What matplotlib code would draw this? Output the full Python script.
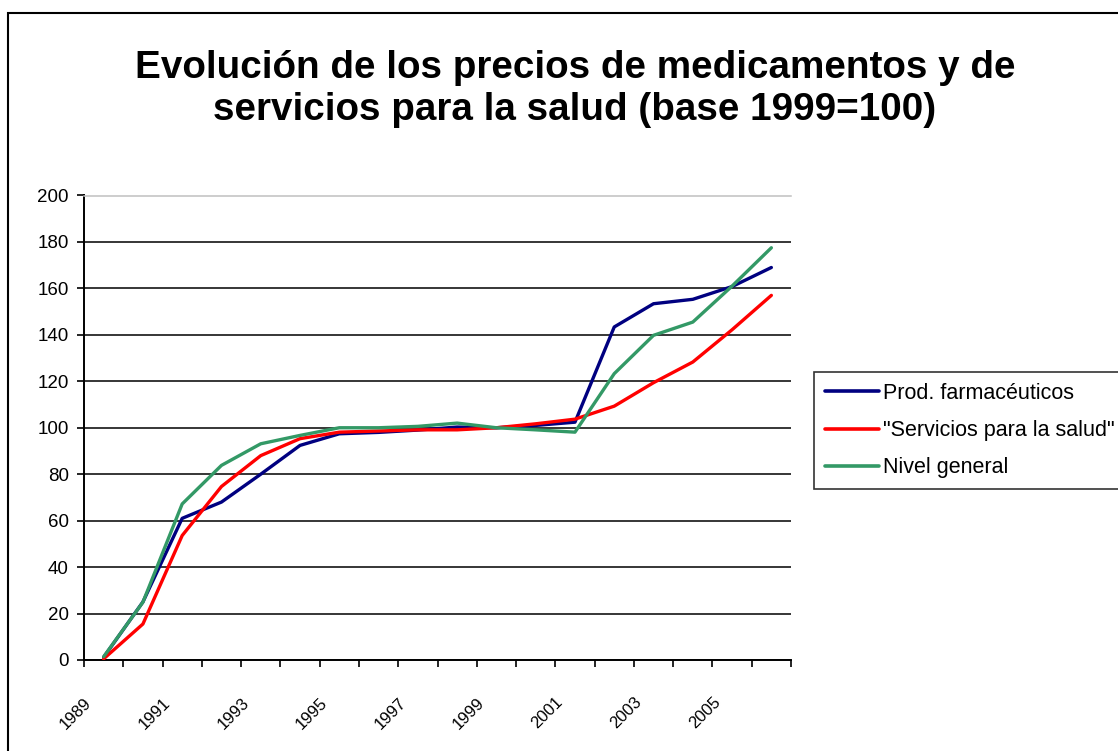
import matplotlib
matplotlib.use("Agg")
import matplotlib.pyplot as plt
import matplotlib.patches as mpatches
from matplotlib.transforms import ScaledTranslation
import numpy as np

plt.rcParams['font.family'] = ['Liberation Sans', 'DejaVu Sans']

years = ["1989", "1990", "1991", "1992", "1993", "1994", "1995", "1996", "1997",
         "1998", "1999", "2000", "2001", "2002", "2003", "2004", "2005", "2006"]
prod_farm = [1.2, 25.0, 61.0, 68.0, 80.0, 92.4, 97.4, 98.0, 99.0,
             100.3, 100.0, 101.0, 102.4, 143.4, 153.4, 155.3, 160.8, 169.0]
serv_salud = [0.5, 15.5, 53.6, 74.7, 88.0, 95.3, 98.1, 98.6, 99.1,
              99.1, 100.0, 101.7, 103.7, 109.3, 119.4, 128.3, 142.2, 157.0]
nivel_gral = [1.4, 24.9, 67.2, 83.8, 93.1, 96.7, 100.0, 100.0, 100.6,
              102.0, 100.0, 99.1, 98.1, 123.3, 139.8, 145.5, 161.0, 177.5]
series_names = ["Prod. farmacéuticos", "\"Servicios para la salud\"", "Nivel general"]
series_colors = ["#000080", "#FF0000", "#339966"]
y_ticks = [0, 20, 40, 60, 80, 100, 120, 140, 160, 180, 200]
title = "Evolución de los precios de medicamentos y de\nservicios para la salud (base 1999=100)"

W, H = 1118, 751
fig = plt.figure(figsize=(W / 100, H / 100), dpi=100)
fig.patch.set_facecolor("white")

# chart-area border (right and bottom edges fall outside the image)
fig.patches.append(mpatches.Rectangle((8 / W, -0.2), 1.5, (H - 13) / H + 0.2,
                                      transform=fig.transFigure, fill=False,
                                      edgecolor="black", linewidth=1.5))

ax = fig.add_axes([84 / W, 1 - 660 / H, (791 - 84) / W, (660 - 195.5) / H])
x = np.arange(len(years))
for vals, name, col in zip([prod_farm, serv_salud, nivel_gral], series_names, series_colors):
    ax.plot(x, vals, color=col, linewidth=2.4, label=name,
            solid_joinstyle="round", solid_capstyle="round", zorder=3)

ax.set_xlim(-0.5, len(years) - 0.5)
ax.set_ylim(0, 200)
ax.set_yticks(y_ticks)
ax.set_yticklabels([str(v) for v in y_ticks], fontsize=13.5)
ax.yaxis.grid(True, color="black", linewidth=1.1)
ax.set_axisbelow(True)
gl = ax.get_ygridlines()
gl[-1].set_color("#C0C0C0")

bounds = np.arange(len(years) + 1) - 0.5
labels = [years[k] if (k % 2 == 0 and k < len(years)) else "" for k in range(len(bounds))]
ax.set_xticks(bounds)
ax.set_xticklabels(labels, fontsize=12, rotation=45, ha="right", va="top",
                   rotation_mode="anchor")
off = ScaledTranslation(-0.15, 0, fig.dpi_scale_trans)
for lab in ax.get_xticklabels():
    lab.set_transform(lab.get_transform() + off)

ax.tick_params(axis="both", direction="out", length=5, width=1.2, color="black")
ax.tick_params(axis="x", pad=20)
ax.tick_params(axis="y", pad=6)
for s in ["left", "bottom"]:
    ax.spines[s].set_color("black")
    ax.spines[s].set_linewidth(1.4)
ax.spines["right"].set_visible(False)
ax.spines["top"].set_color("#C0C0C0")
ax.spines["top"].set_linewidth(1.1)

leg = fig.legend(loc="upper left", bbox_to_anchor=(814 / W, 1 - 372 / H),
                 bbox_transform=fig.transFigure, fontsize=15.5, frameon=True,
                 fancybox=False, shadow=False, borderaxespad=0, borderpad=0.5,
                 labelspacing=0.76, handlelength=2.5, handletextpad=0.2)
leg.get_frame().set_edgecolor("black")
leg.get_frame().set_linewidth(1.2)
for h in leg.get_lines():
    h.set_linewidth(2.6)

fig.text(575 / W, 1 - 89 / H, title, ha="center", va="center", fontsize=27.8,
         fontweight="bold", linespacing=1.2)

fig.savefig("out.png", dpi=100, facecolor="white")
